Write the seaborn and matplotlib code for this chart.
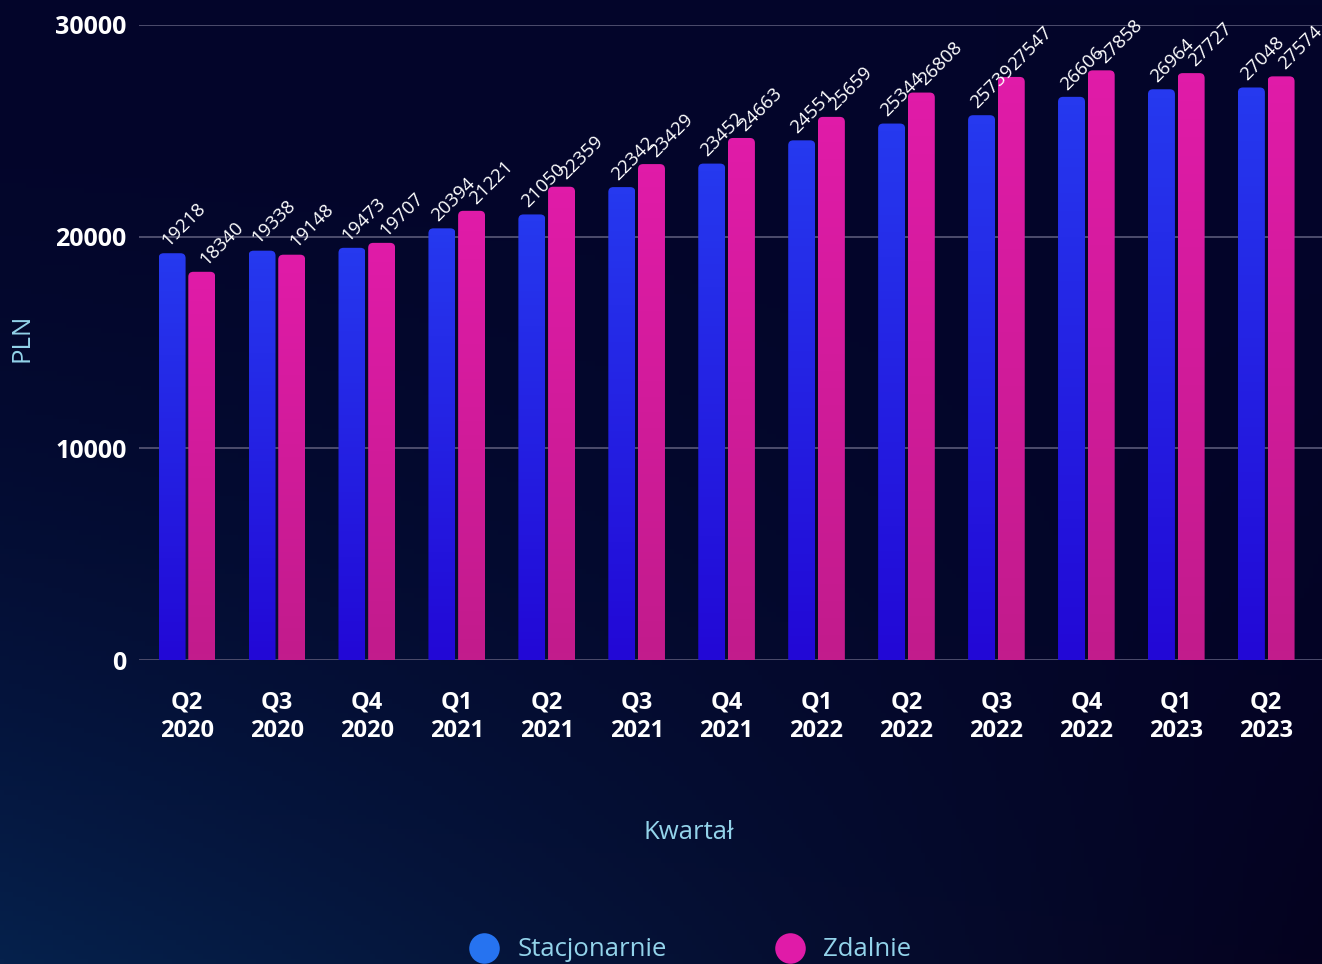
import numpy as np
import matplotlib
matplotlib.use("Agg")
import matplotlib.pyplot as plt
from matplotlib.patches import FancyBboxPatch
from matplotlib.lines import Line2D
from matplotlib.colors import to_rgb
import pandas as pd
import seaborn as sns


quarters = ["Q2\n2020", "Q3\n2020", "Q4\n2020", "Q1\n2021", "Q2\n2021", "Q3\n2021", "Q4\n2021",
            "Q1\n2022", "Q2\n2022", "Q3\n2022", "Q4\n2022", "Q1\n2023", "Q2\n2023"]
stacjonarnie = [19218, 19338, 19473, 20394, 21050, 22342, 23452, 24551, 25344, 25739, 26606, 26964, 27048]
zdalnie = [18340, 19148, 19707, 21221, 22359, 23429, 24663, 25659, 26808, 27547, 27858, 27727, 27574]
series = ["Stacjonarnie", "Zdalnie"]
y_ticks = [0, 10000, 20000, 30000]

# gradient colours (top, bottom) for bars, plus legend dots
bar_grad = {"Stacjonarnie": ("#2639ef", "#2208d6"), "Zdalnie": ("#e01ba8", "#c21c8c")}
legend_cols = {"Stacjonarnie": "#2673f0", "Zdalnie": "#e01ba8"}
label_shift = {"Stacjonarnie": -3, "Zdalnie": 3}  # value label x offset, points
label_col = "#93d3ea"

df = pd.DataFrame({
    "Kwartał": quarters * 2,
    "PLN": stacjonarnie + zdalnie,
    "Tryb": [series[0]] * len(quarters) + [series[1]] * len(quarters),
})

sns.set_theme(style="dark")
plt.rcParams["font.family"] = ["Open Sans", "DejaVu Sans"]

W, H = 1322, 964
fig = plt.figure(figsize=(W / 100, H / 100), dpi=100)

# background gradient
bg = fig.add_axes([0, 0, 1, 1], zorder=-10)
yy, xx = np.mgrid[0:1:200j, 0:1:300j]
top = np.array(to_rgb("#03052a"))
bl = np.array(to_rgb("#06214c"))
br = np.array(to_rgb("#05021f"))
bottom = bl[None, :] * (1 - xx[..., None]) + br[None, :] * xx[..., None]
img = top * (1 - yy[..., None] ** 2) + bottom * (yy[..., None] ** 2)
bg.imshow(img, aspect="auto", extent=[0, 1, 0, 1], origin="upper")
bg.axis("off")

ax = fig.add_axes([139 / W, 304 / H, 1183 / W, 635 / H])
ax.set_facecolor("none")
sns.barplot(data=df, x="Kwartał", y="PLN", hue="Tryb", palette=[legend_cols[s] for s in series],
            width=0.66, saturation=1, legend=False, ax=ax)

xlim = (-0.533, 12.62)
ylim = (0, 30000)
ax.set_xlim(*xlim)
ax.set_ylim(*ylim)

px_x = 1183 / (xlim[1] - xlim[0])
px_y = 635 / (ylim[1] - ylim[0])
r_px = 5
rx = r_px / px_x
aspect = px_x / px_y

for cont, name in zip(ax.containers, series):
    ctop, cbot = bar_grad[name]
    grad = np.linspace(np.array(to_rgb(cbot)), np.array(to_rgb(ctop)), 64)[:, None, :]
    for p in cont.patches:
        x0 = p.get_x() + 0.015
        w = p.get_width() - 0.03
        h = p.get_height()
        p.set_visible(False)
        im = ax.imshow(grad, extent=[x0, x0 + w, 0, h], origin="lower", aspect="auto", zorder=3)
        clip = FancyBboxPatch((x0, -r_px / px_y * 2), w, h + r_px / px_y * 2,
                              boxstyle=f"round,pad=0,rounding_size={rx}",
                              mutation_aspect=aspect, transform=ax.transData)
        im.set_clip_path(clip)
        ax.annotate(f"{int(h)}", xy=(x0 + w / 2, h), xytext=(label_shift[name], 4.5),
                    textcoords="offset points", rotation=45, rotation_mode="anchor",
                    ha="left", va="baseline", color="white", fontsize=13.5,
                    annotation_clip=False, zorder=5)

ax.set_xlim(*xlim)
ax.set_ylim(*ylim)

for s in ax.spines.values():
    s.set_visible(False)
ax.set_yticks(y_ticks)
ax.set_yticklabels([str(t) for t in y_ticks])
ax.grid(False)
for t in y_ticks:
    ax.axhline(t, color="#4c4c6c", lw=1.4, zorder=1)
ax.tick_params(axis="y", length=0, pad=9, labelsize=18, labelcolor="white")
ax.tick_params(axis="x", length=0, pad=22, labelsize=17, labelcolor="white")
for lbl in ax.get_xticklabels() + ax.get_yticklabels():
    lbl.set_fontweight("bold")
for lbl in ax.get_xticklabels():
    lbl.set_linespacing(1.25)

ax.set_xlabel("Kwartał", color=label_col, fontsize=18.5)
ax.xaxis.set_label_coords(0.465, -0.272)
ax.xaxis.label.set_va("center")
ax.set_ylabel("PLN", color=label_col, fontsize=18.5)
ax.yaxis.set_label_coords(-0.099, 0.507)
ax.yaxis.label.set_va("center")

handles = [Line2D([], [], marker="o", ls="none", markersize=22, markerfacecolor=legend_cols[s],
                  markeredgecolor="none", label=s) for s in series]
fig.legend(handles=handles, loc="center", bbox_to_anchor=(690 / W, 1 - 950 / H), ncol=2,
           frameon=False, fontsize=18.5, labelcolor=label_col, columnspacing=4.2,
           handletextpad=0.7, handlelength=1.2)

fig.savefig("out.png", dpi=100, facecolor="#03052a")
